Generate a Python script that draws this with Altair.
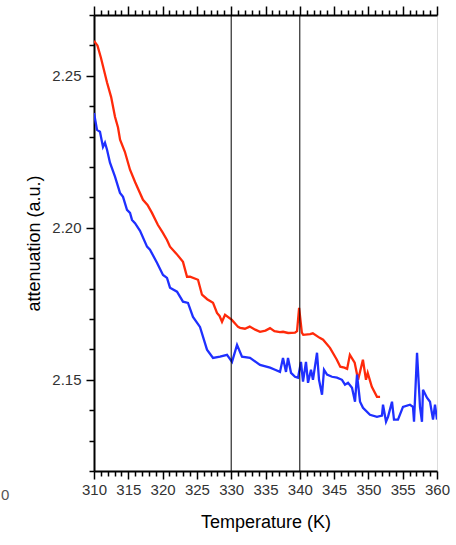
import altair as alt
import pandas as pd

# ---- data ----
red_T = [310.0, 310.5, 311.0, 311.9, 312.5, 313.06, 313.5, 313.8, 314.5, 315.25,
         316.0, 317.14, 317.8, 318.45, 319.3, 320.0, 320.64, 321.08, 322.0, 322.97,
         323.56, 324.0, 325.16, 325.74, 326.5, 327.35, 327.93, 328.3, 328.66, 329.1,
         330.1, 331.0, 331.3, 332.0, 332.7, 333.5, 334.2, 335.0, 335.66, 336.3,
         337.1, 337.55, 338.3, 339.3, 339.6, 339.9, 340.3, 340.5, 341.5, 341.9,
         342.9, 343.4, 344.4, 345.4, 345.9, 346.5, 346.9, 347.3, 348.0, 348.5,
         349.2, 349.65, 349.9, 350.5, 351.25, 351.7]
red_A = [2.2615, 2.2600, 2.2560, 2.2478, 2.2430, 2.2365, 2.2330, 2.2290, 2.2250, 2.2191,
         2.2150, 2.2092, 2.2075, 2.2049, 2.2010, 2.1985, 2.1960, 2.1938, 2.1915, 2.1888,
         2.1839, 2.1839, 2.1829, 2.1780, 2.1765, 2.1753, 2.1720, 2.1710, 2.1691, 2.1714,
         2.1697, 2.1674, 2.1671, 2.1668, 2.1675, 2.1665, 2.1658, 2.1662, 2.1670, 2.1660,
         2.1657, 2.1658, 2.1654, 2.1655, 2.1660, 2.1737, 2.1655, 2.1648, 2.1650, 2.1653,
         2.1638, 2.1632, 2.1605, 2.1566, 2.1543, 2.1540, 2.1536, 2.1582, 2.1556, 2.1500,
         2.1566, 2.1500, 2.1523, 2.1477, 2.1444, 2.1444]

blue_T = [310.0, 310.44, 310.87, 311.31, 311.6, 311.9, 312.33, 313.06, 313.79, 314.23,
          314.81, 315.25, 315.54, 315.98, 316.71, 317.73, 318.16, 319.18, 320.06, 320.64,
          321.08, 322.1, 322.97, 323.7, 324.43, 325.45, 326.47, 327.35, 328.37, 329.39,
          330.12, 330.85, 331.57, 332.74, 334.2, 335.66, 336.39, 337.11, 337.55, 337.99,
          338.28, 338.72, 339.3, 339.74, 340.17, 340.47, 340.9, 341.2, 341.63, 341.92,
          342.51, 342.8, 343.24, 343.53, 343.97, 344.69, 345.42, 346.15, 346.59, 347.03,
          347.61, 348.05, 348.34, 348.78, 349.21, 350.23, 351.25, 351.98, 352.13, 352.57,
          352.86, 353.44, 353.73, 354.31, 355.04, 356.06, 356.5, 356.65, 357.09, 357.52,
          357.81, 357.96, 358.54, 358.98, 359.42, 359.71, 360.0]
blue_A = [2.2378, 2.2322, 2.2316, 2.2266, 2.2280, 2.2257, 2.2214, 2.2168, 2.2115, 2.2102,
          2.2059, 2.2049, 2.2026, 2.2015, 2.1990, 2.1938, 2.1928, 2.1885, 2.1845, 2.1835,
          2.1803, 2.1790, 2.1757, 2.1753, 2.1707, 2.1674, 2.1599, 2.1572, 2.1576, 2.1582,
          2.1559, 2.1615, 2.1576, 2.1572, 2.1549, 2.1540, 2.1533, 2.1526, 2.1572, 2.1526,
          2.1572, 2.1523, 2.1510, 2.1507, 2.1559, 2.1494, 2.1559, 2.1490, 2.1533, 2.1500,
          2.1589, 2.1500, 2.1451, 2.1533, 2.1517, 2.1510, 2.1507, 2.1500, 2.1484, 2.1490,
          2.1474, 2.1428, 2.1517, 2.1428, 2.1408, 2.1385, 2.1378, 2.1382, 2.1418, 2.1362,
          2.1378, 2.1428, 2.1369, 2.1369, 2.1411, 2.1418, 2.1411, 2.1362, 2.1589, 2.1411,
          2.1362, 2.1467, 2.1441, 2.1428, 2.1369, 2.1418, 2.1369]

marker_T = [330, 340]
x_ticks = list(range(310, 361))
y_ticks = [round(2.12 + 0.01 * i, 2) for i in range(16)]

df = pd.concat([
    pd.DataFrame({"T": red_T, "A": red_A, "series": "red", "order": range(len(red_T))}),
    pd.DataFrame({"T": blue_T, "A": blue_A, "series": "blue", "order": range(len(blue_T))}),
])
rules = pd.DataFrame({"T": marker_T})
stray = pd.DataFrame({"t": ["0"]})

FONT = "Liberation Sans"
xscale = alt.Scale(domain=[310, 360], nice=False, zero=False)
yscale = alt.Scale(domain=[2.12, 2.27], nice=False, zero=False)

x_major = "datum.value % 5 === 0"
y_major = "abs(datum.value * 100 - round(datum.value * 20) * 5) < 0.01"

x_axis_bottom = alt.Axis(
    values=x_ticks, grid=False, orient="bottom",
    tickSize={"condition": {"test": x_major, "value": 8}, "value": 5},
    tickColor="black", tickWidth=1.5, domainColor="black", domainWidth=2,
    labelExpr=f"{x_major} ? datum.label : ''", labelFont=FONT, labelFontSize=15,
    labelColor="#333", labelPadding=3, labelFlush=False,
    title="Temperature (K)", titleFont=FONT, titleFontSize=18,
    titleFontWeight="normal", titleColor="black", titlePadding=16,
)
x_axis_top = alt.Axis(
    values=x_ticks, grid=False, orient="top", labels=False, title=None,
    tickSize={"condition": {"test": x_major, "value": 9}, "value": 5},
    tickColor="black", tickWidth=1.5, domainColor="black", domainWidth=2,
)
y_axis = alt.Axis(
    values=y_ticks, grid=False, orient="left",
    tickSize={"condition": {"test": y_major, "value": 8}, "value": 5},
    tickColor="black", tickWidth=1.5, domainColor="black", domainWidth=2,
    labelExpr=f"{y_major} ? format(datum.value, '.2f') : ''", labelFont=FONT,
    labelFontSize=15, labelColor="#333", labelPadding=5, labelFlush=False,
    title="attenuation (a.u.)", titleFont=FONT, titleFontSize=18,
    titleFontWeight="normal", titleColor="black", titlePadding=8,
)

lines = alt.Chart(df).mark_line(strokeWidth=2.3, clip=True).encode(
    x=alt.X("T:Q", scale=xscale, axis=x_axis_bottom),
    y=alt.Y("A:Q", scale=yscale, axis=y_axis),
    color=alt.Color("series:N", scale=alt.Scale(domain=["red", "blue"],
                    range=["#ff2a0a", "#1f30ff"]), legend=None),
    order="order:Q",
)

vrules = alt.Chart(rules).mark_rule(color="black", strokeWidth=1).encode(
    x=alt.X("T:Q", scale=xscale, axis=x_axis_top),
)

stray_text = alt.Chart(stray).mark_text(
    font=FONT, fontSize=15, color="#555555", align="left", baseline="middle"
).encode(text="t:N", x=alt.value(-93), y=alt.value(480))

chart = alt.layer(lines, vrules, stray_text).resolve_axis(x="independent").properties(
    width=343, height=456,
    padding={"left": 94, "top": 15, "right": 19, "bottom": 74},
    autosize=alt.AutoSizeParams(type="none"),
).configure_view(stroke="black", strokeWidth=2).configure(background="white")

chart.save("out.html", embed_options={"renderer": "svg", "actions": False})
